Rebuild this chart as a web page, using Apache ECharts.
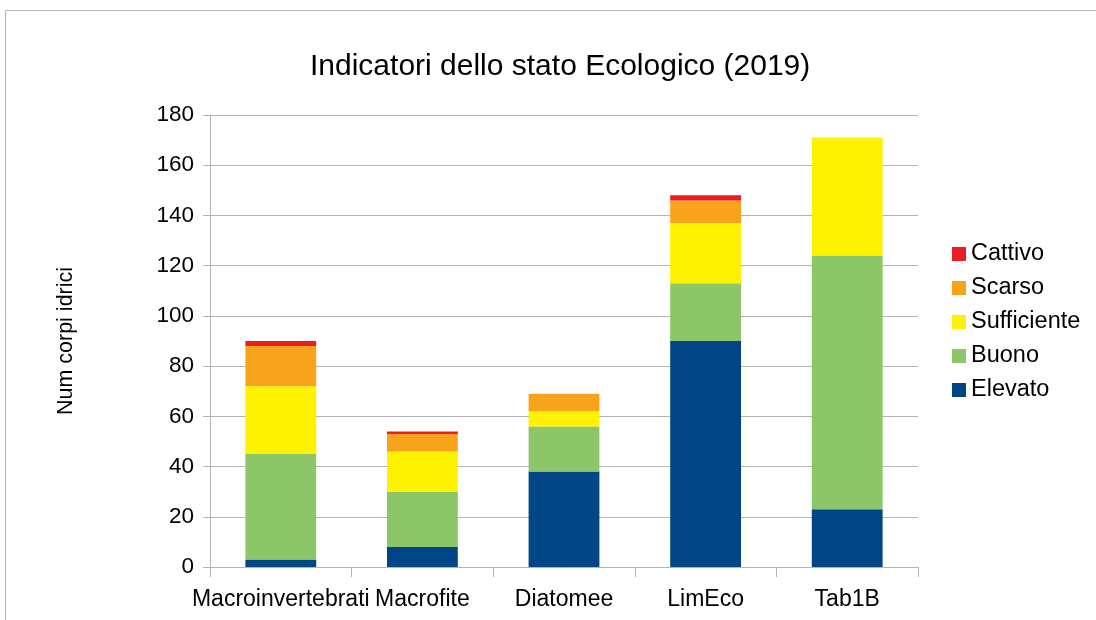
<!DOCTYPE html>
<html>
<head>
<meta charset="utf-8">
<script src="https://cdn.jsdelivr.net/npm/echarts@6/dist/echarts.min.js"></script>
<style>
  html, body { margin: 0; padding: 0; background: #fff; }
  #main { width: 1096px; height: 620px; }
</style>
</head>
<body>
<div id="main"></div>
<script>
// dati
var categories = ['Macroinvertebrati', 'Macrofite', 'Diatomee', 'LimEco', 'Tab1B'];
var elevato = [3, 8, 38, 90, 23];
var buono = [42, 22, 18, 23, 101];
var sufficiente = [27, 16, 6, 24, 47];
var scarso = [16, 7, 7, 9, 0];
var cattivo = [2, 1, 0, 2, 0];
var yTicks = [0, 20, 40, 60, 80, 100, 120, 140, 160, 180];

(function () {
    var chartDom = document.getElementById('main');
    var myChart = echarts.init(chartDom);
    var option;
    var font = 'Liberation Sans, Arial, sans-serif';

    function serie(name, data, color) {
        return {
            name: name,
            type: 'bar',
            stack: 'tot',
            barWidth: '50%',
            data: data,
            itemStyle: { color: color },
            emphasis: { disabled: true }
        };
    }

    option = {
        animation: false,
        textStyle: { fontFamily: font },
        title: {
            text: 'Indicatori dello stato Ecologico (2019)',
            left: 305,
            top: 47,
            textStyle: {
                fontSize: 30,
                fontWeight: 'normal',
                color: '#000',
                fontFamily: font
            }
        },
        graphic: [
            {
                type: 'rect',
                shape: { x: 5.5, y: 10.5, width: 1200, height: 700 },
                style: { fill: 'none', stroke: '#b3b3b3', lineWidth: 1 },
                silent: true
            }
        ],
        legend: {
            orient: 'vertical',
            left: 947,
            top: 237,
            itemWidth: 14,
            itemHeight: 14,
            itemGap: 10,
            icon: 'rect',
            data: ['Cattivo', 'Scarso', 'Sufficiente', 'Buono', 'Elevato'],
            textStyle: { fontSize: 23.5, color: '#000', fontFamily: font, padding: [0, 0, 0, 0] }
        },
        grid: {
            left: 210,
            right: 178,
            top: 115,
            bottom: 53,
            containLabel: false
        },
        xAxis: {
            type: 'category',
            data: categories,
            axisLine: { lineStyle: { color: '#b3b3b3' } },
            axisTick: { show: true, length: 10, lineStyle: { color: '#b3b3b3' } },
            axisLabel: { fontSize: 23, color: '#000', margin: 21, interval: 0 }
        },
        yAxis: {
            type: 'value',
            min: yTicks[0],
            max: yTicks[yTicks.length - 1],
            interval: 20,
            name: 'Num corpi idrici',
            nameLocation: 'middle',
            nameGap: 133,
            nameTextStyle: { fontSize: 21.5, color: '#000' },
            axisLine: { show: true, lineStyle: { color: '#b3b3b3' } },
            axisTick: { show: true, length: 7, lineStyle: { color: '#b3b3b3' } },
            axisLabel: { fontSize: 22.5, color: '#000', margin: 16 },
            splitLine: { lineStyle: { color: '#b3b3b3' } }
        },
        series: [
            serie('Elevato', elevato, '#004586'),
            serie('Buono', buono, '#8cc668'),
            serie('Sufficiente', sufficiente, '#fff200'),
            serie('Scarso', scarso, '#f8a31c'),
            serie('Cattivo', cattivo, '#ed1c24')
        ]
    };

    option && myChart.setOption(option);
})();
</script>
</body>
</html>
